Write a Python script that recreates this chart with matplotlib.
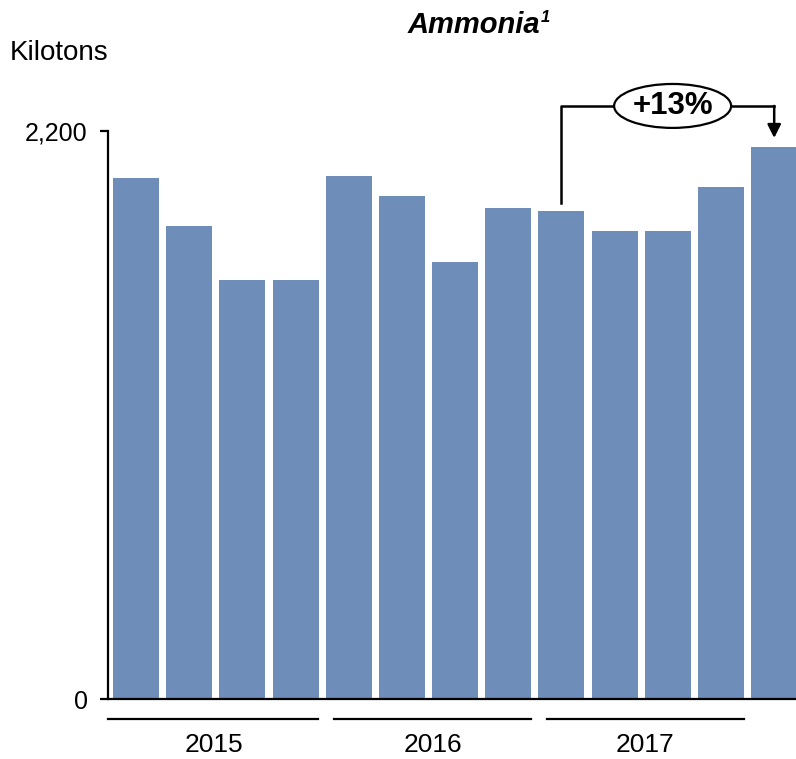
import numpy as np
import matplotlib
matplotlib.use("Agg")
import matplotlib.pyplot as plt
from matplotlib.patches import Ellipse
from matplotlib.transforms import blended_transform_factory

plt.rcParams['font.family'] = ['Liberation Sans', 'DejaVu Sans']

# quarterly ammonia volumes, kilotons
volumes = [2018, 1832, 1623, 1623, 2026, 1948, 1693, 1902, 1892, 1812, 1812, 1982, 2139]
years = ["2015", "2016", "2017"]
quarters_per_year = 4
change_label = "+13%"
y_ticks = [0, 2200]
y_tick_labels = ["0", "2,200"]

bar_color = "#6E8DB9"

fig = plt.figure(figsize=(7.96, 7.59), dpi=100)
ax = fig.add_axes([0.1363, 0.0784, 0.8637, 0.749])

x = np.arange(len(volumes))
ax.bar(x, volumes, width=0.865, color=bar_color, zorder=2)

xmin, xmax = -0.517, 12.41
ax.set_xlim(xmin, xmax)
ax.set_ylim(0, 2200)

for s in ["top", "right"]:
    ax.spines[s].set_visible(False)
ax.spines["left"].set_linewidth(1.6)
ax.spines["bottom"].set_linewidth(1.6)
ax.spines["bottom"].set_zorder(3)
ax.set_xticks([])
ax.set_yticks(y_ticks)
ax.set_yticklabels(y_tick_labels, fontsize=18)
ax.tick_params(axis="y", length=6, width=1.6, pad=9)

# year underlines and labels below the axis
trans = blended_transform_factory(ax.transData, ax.transAxes)
for k, yr in enumerate(years):
    first = k * quarters_per_year
    last = first + quarters_per_year - 1
    x0 = xmin if k == 0 else first - 0.28
    x1 = last + 0.43
    ax.plot([x0, x1], [-0.0343, -0.0343], color="black", lw=1.6,
            transform=trans, clip_on=False)
    ax.text((x0 + x1) / 2, -0.080, yr, transform=trans, ha="center",
            va="center", fontsize=19)

# growth bracket from Q1 2017 to the latest quarter
i_from, i_to = 8, len(volumes) - 1
level = 2297
ax.plot([i_from, i_from, i_to], [volumes[i_from] + 30, level, level],
        color="black", lw=1.8, clip_on=False, zorder=4)
ax.annotate("", xy=(i_to, volumes[i_to] + 34), xytext=(i_to, level),
            arrowprops=dict(arrowstyle="-|>,head_length=0.8,head_width=0.4",
                            color="black", lw=1.8, shrinkA=0, shrinkB=0),
            annotation_clip=False)
cx = (i_from + i_to) / 2 + 0.09
ell = Ellipse((cx, level), width=2.2, height=170, facecolor="white",
              edgecolor="black", lw=1.6, clip_on=False, zorder=5)
ax.add_patch(ell)
ax.text(cx, level, change_label, ha="center", va="center", fontsize=22.5,
        fontweight="bold", zorder=6, clip_on=False)

fig.text(10 / 796, 1 - 53 / 759, "Kilotons", fontsize=20, va="center", ha="left")

# title with footnote marker
title = fig.text(474 / 796, 1 - 33 / 759, "Ammonia", fontsize=21, fontweight="bold",
                 fontstyle="italic", ha="center", va="baseline")
ax.annotate("1", xy=(1, 1), xycoords=title, xytext=(0.5, 0.5),
            textcoords="offset points", ha="left", va="top", fontsize=12,
            fontweight="bold", fontstyle="italic", annotation_clip=False)

fig.savefig("out.png", dpi=100)
